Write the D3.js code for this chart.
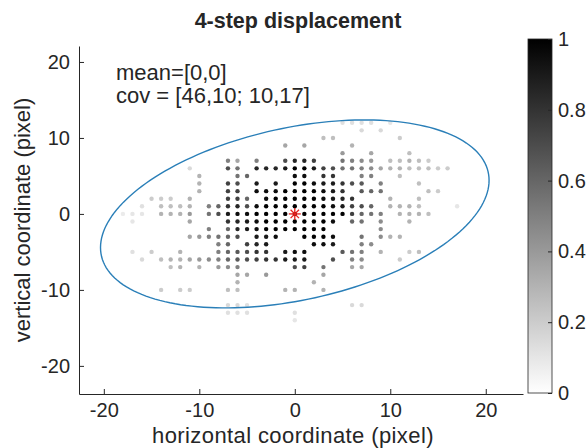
<!DOCTYPE html>
<html>
<head>
<meta charset="utf-8">
<script src="https://cdn.jsdelivr.net/npm/d3@7"></script>
<style>
  html, body { margin: 0; padding: 0; background: #fff; }
  text { font-family: "Liberation Sans", Arial, Helvetica, sans-serif; fill: #262626; }
</style>
</head>
<body>
<svg id="chart" width="587" height="448"></svg>
<script>
// ---------------- data ----------------
const titleText = "4-step displacement";
const xLabel = "horizontal coordinate (pixel)";
const yLabel = "vertical coordinate (pixel)";
const meanVec = [0, 0];
const covMat = [[46, 10], [10, 17]];
const nSigma = 3;
const xTicks = [-20, -10, 0, 10, 20];
const yTicks = [-20, -10, 0, 10, 20];
const cbTicks = [0, 0.2, 0.4, 0.6, 0.8, 1];

// rows of the displacement histogram (y value), with the x values and normalised counts
const dotRows = [12, 11, 10, 9, 8, 7, 6, 5, 4, 3, 2, 1, 0, -1, -2, -3, -4, -5, -6, -7, -8, -9, -10, -12, -13, -14];
const dotCols = [
  [5,6,7,8,10],
  [7,9],
  [3,4,11],
  [-1,1,6],
  [5,8,12],
  [-7,-6,-4,-1,0,1,2,5,6,7,8,10,11,12,13,14],
  [-11,-7,-6,-4,-3,-2,-1,0,1,2,3,4,5,6,7,8,9,10,11,12,13,14,15,16],
  [-10,-6,-5,0,1,3,4,7,8,11],
  [-10,-7,-6,-4,-2,0,1,2,3,4,5,6,7,9,13],
  [-10,-7,-6,-4,-3,-2,-1,0,1,2,3,4,5,7,8,9,14,15],
  [-15,-14,-13,-11,-7,-6,-5,-3,-2,-1,0,1,2,3,4,5,6,10,13],
  [-16,-14,-13,-12,-11,-9,-8,-7,-6,-5,-4,-3,-2,-1,0,1,2,3,4,5,6,7,8,10,11,12,13,17],
  [-18,-17,-16,-14,-13,-12,-11,-9,-8,-7,-6,-5,-4,-3,-2,-1,0,1,2,3,4,5,6,7,8,9,11,12,13,14],
  [-17,-11,-7,-6,-5,-4,-3,-2,-1,0,1,2,3,4,6,7,9,12],
  [-9,-7,-6,-5,-4,-3,-2,-1,0,1,2,3,9],
  [-11,-10,-9,-8,-7,-6,-4,-3,-2,1,2,3,4,7,9,10,11],
  [-8,-7,-5,-4,-3,2,3,4,7,8],
  [-17,-15,-12,-8,-7,-6,-5,-4,-3,-1,0,1,5,6,7,9,12,13],
  [-16,-14,-13,-12,-11,-10,-9,-8,-7,-6,-5,-4,-3,-2,-1,0,1,4,6,7,11],
  [-13,-12,-10,-8,-7,-6,0,1,3,6,7],
  [-6,-5,-3,3],
  [-6,2],
  [-14,-12,-11,-7,-6,-1,0,3],
  [-7,-6,-5,6,7],
  [-7,-6,-5,0],
  [0]
];
const dotVals = [
  [.12,.12,.12,.12,.1],
  [.15,.15],
  [.25,.25,.2],
  [.35,.35,.3],
  [.4,.35,.25],
  [.5,.35,.5,.7,.85,.85,.75,.55,.5,.45,.4,.25,.25,.3,.25,.2],
  [.15,.7,.55,.85,.85,.85,.9,1,1,.9,.75,.7,.55,.55,.5,.45,.35,.3,.3,.25,.25,.25,.2,.2],
  [.3,.55,.6,.95,.95,.8,.8,.5,.5,.25],
  [.3,.75,.7,.9,.9,1,1,.95,.9,.9,.8,.7,.65,.5,.25],
  [.3,.75,.75,.95,.95,.95,1,1,1,1,.95,.9,.8,.65,.6,.55,.25,.2],
  [.2,.2,.2,.3,.75,.75,.6,.95,1,1,1,1,1,.95,.9,.85,.8,.3,.25],
  [.12,.25,.25,.25,.3,.5,.6,.8,.85,.7,.95,1,1,1,1,1,1,1,.95,.9,.75,.7,.6,.3,.3,.3,.25,.1],
  [.08,.1,.1,.3,.3,.3,.4,.55,.7,.9,.95,.95,1,1,1,1,1,1,1,1,1,1,.75,.6,.55,.5,.3,.3,.3,.25],
  [.1,.35,.8,.85,.9,.95,1,1,1,1,1,1,1,.95,.6,.55,.45,.3],
  [.5,.6,.85,.9,.95,1,1,1,1,1,1,1,.45],
  [.35,.4,.5,.55,.6,.7,.9,.9,.95,1,1,1,.95,.55,.45,.3,.3],
  [.5,.6,.75,.85,.9,.95,.95,.9,.5,.45],
  [.12,.2,.3,.5,.6,.65,.7,.8,.8,.9,.95,.95,.65,.55,.5,.3,.2,.25],
  [.15,.25,.3,.3,.35,.4,.45,.5,.6,.65,.7,.75,.8,.8,.9,.9,.9,.7,.5,.45,.2],
  [.25,.3,.3,.4,.45,.5,.7,.75,.55,.35,.35],
  [.35,.35,.4,.35],
  [.3,.3],
  [.2,.2,.2,.25,.25,.3,.3,.3],
  [.15,.15,.12,.15,.15],
  [.12,.12,.12,.12],
  [.1]
];

// ---------------- layout ----------------
const svg = d3.select("#chart");
const plot = { left: 79, right: 523, top: 46, bottom: 394 };
const axisColor = "#262626";
const tickFont = 20;
const labelFont = 22;
const fam = '"Liberation Sans", Arial, sans-serif';

const x = d3.scaleLinear().domain([-22.6, 23.9]).range([plot.left, plot.right]);
const y = d3.scaleLinear().domain([-23.7, 22.1]).range([plot.bottom, plot.top]);
const gray = d3.interpolateRgb("#ffffff", "#000000");

// dots
const dots = [];
dotRows.forEach((r, k) => dotCols[k].forEach((c, m) => dots.push({ x: c, y: r, v: dotVals[k][m] })));
svg.append("g").selectAll("circle").data(dots).join("circle")
  .attr("cx", d => x(d.x)).attr("cy", d => y(d.y)).attr("r", 2.2)
  .attr("fill", d => gray(d.v));

// covariance ellipse (n-sigma contour)
const l11 = Math.sqrt(covMat[0][0]);
const l21 = covMat[1][0] / l11;
const l22 = Math.sqrt(covMat[1][1] - l21 * l21);
const ell = d3.range(0, 361, 2).map(a => {
  const t = a * Math.PI / 180, u = Math.cos(t), w = Math.sin(t);
  return [meanVec[0] + nSigma * l11 * u, meanVec[1] + nSigma * (l21 * u + l22 * w)];
});
svg.append("path").datum(ell)
  .attr("d", d3.line().x(d => x(d[0])).y(d => y(d[1])).curve(d3.curveLinearClosed))
  .attr("fill", "none").attr("stroke", "#2a7fb8").attr("stroke-width", 1.4);

// mean marker (asterisk)
const mx = x(meanVec[0]), my = y(meanVec[1]), s = 6;
const star = svg.append("g").attr("stroke", "#e8201c").attr("stroke-width", 1.3);
[[-s, 0, s, 0], [0, -s, 0, s], [-s * 0.7, -s * 0.7, s * 0.7, s * 0.7], [-s * 0.7, s * 0.7, s * 0.7, -s * 0.7]]
  .forEach(l => star.append("line").attr("x1", mx + l[0]).attr("y1", my + l[1]).attr("x2", mx + l[2]).attr("y2", my + l[3]));

// axes
const fmt = d => String(d);
const xAxis = d3.axisBottom(x).tickValues(xTicks).tickFormat(fmt).tickSizeInner(-5).tickSizeOuter(0).tickPadding(9);
const yAxis = d3.axisLeft(y).tickValues(yTicks).tickFormat(fmt).tickSizeInner(-5).tickSizeOuter(0).tickPadding(9);
const gx = svg.append("g").attr("transform", `translate(0,${plot.bottom})`).call(xAxis);
const gy = svg.append("g").attr("transform", `translate(${plot.left},0)`).call(yAxis);
[gx, gy].forEach(g => {
  g.selectAll("path, line").attr("stroke", axisColor).attr("stroke-width", 1);
  g.selectAll("text").attr("font-size", tickFont).attr("fill", axisColor).style("font-family", fam);
});

// titles and labels
svg.append("text").attr("x", 298).attr("y", 28)
  .attr("text-anchor", "middle").attr("font-size", 21.5).attr("font-weight", "bold").text(titleText);
svg.append("text").attr("x", 293).attr("y", 443)
  .attr("text-anchor", "middle").attr("font-size", labelFont).attr("letter-spacing", 0.4).text(xLabel);
svg.append("text").attr("transform", `translate(30,${(plot.top + plot.bottom) / 2}) rotate(-90)`)
  .attr("text-anchor", "middle").attr("font-size", labelFont).text(yLabel);

// annotation
svg.append("text").attr("x", 116).attr("y", 80).attr("font-size", labelFont)
  .text(`mean=[${meanVec.join(",")}]`);
svg.append("text").attr("x", 116).attr("y", 103).attr("font-size", labelFont)
  .text(`cov = [${covMat[0].join(",")}; ${covMat[1].join(",")}]`);

// colorbar
const cb = { left: 528, width: 24, top: 39, bottom: 393 };
const cbScale = d3.scaleLinear().domain([0, 1]).range([cb.bottom, cb.top]);
const defs = svg.append("defs");
const grad = defs.append("linearGradient").attr("id", "cbgrad")
  .attr("x1", 0).attr("y1", 1).attr("x2", 0).attr("y2", 0);
d3.range(0, 1.0001, 0.1).forEach(t => grad.append("stop").attr("offset", t).attr("stop-color", gray(t)));
svg.append("rect").attr("x", cb.left).attr("y", cb.top).attr("width", cb.width)
  .attr("height", cb.bottom - cb.top).attr("fill", "url(#cbgrad)")
  .attr("stroke", axisColor).attr("stroke-width", 0.8);
const cbAxis = d3.axisRight(cbScale).tickValues(cbTicks).tickSizeInner(-4).tickSizeOuter(0)
  .tickPadding(6).tickFormat(d3.format("~g"));
const gcb = svg.append("g").attr("transform", `translate(${cb.left + cb.width},0)`).call(cbAxis);
gcb.select(".domain").remove();
gcb.selectAll("line").attr("stroke", axisColor);
gcb.selectAll("text").attr("font-size", tickFont).attr("fill", axisColor).style("font-family", fam);
</script>
</body>
</html>
